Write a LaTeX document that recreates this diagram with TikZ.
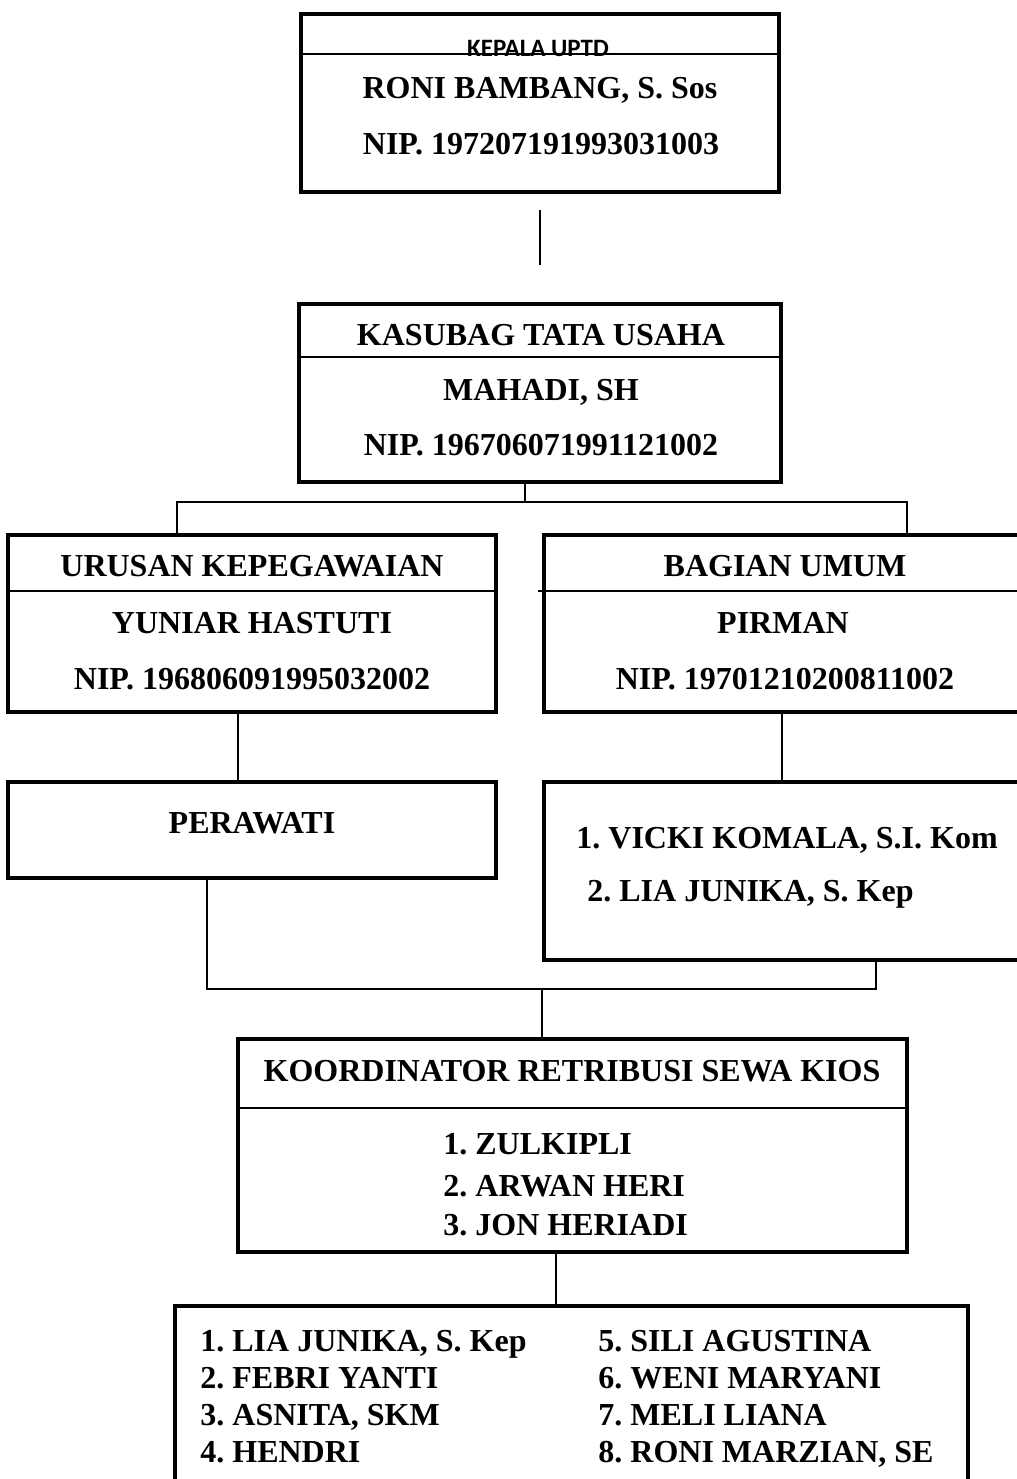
\documentclass[tikz,border=0pt]{standalone}
\usepackage{fontspec}
\setmainfont{Liberation Serif}
\newfontfamily\calibri{Carlito}
\usepackage{tikz}
\frenchspacing

\begin{document}
\begin{tikzpicture}[x=0.5pt,y=-0.5pt,
  box/.style 2 args={draw, line width=2pt, minimum width=#1*0.5pt, minimum height=#2*0.5pt},
  divider/.style={line width=0.75pt},
  conn/.style={line width=0.75pt},
  txt/.style={font=\fontsize{16}{19}\selectfont\bfseries, text height=10.6pt, text depth=0pt}]
\tikzstyle{every node}+=[inner sep=0pt]
\clip (0,0) rectangle (1017,1479);
% boxes
\node [box={478}{178}] (kepala) at (540,103) {};
\node [box={482}{178}] (kasubag) at (540,393) {};
\node [box={488}{177}] (urusan) at (252,623.5) {};
\node [box={492}{177}] (bagian) at (790,623.5) {};
\node [box={488}{96}] (perawati) at (252,830) {};
\node [box={492}{178}] (staf) at (790,871) {};
\node [box={669}{213}] (koordinator) at (572.5,1145.5) {};
\node [box={793}{195}] (pelaksana) at (571.5,1403) {};
% dividers
\draw [divider] (kepala.west |- 0,54) -- (kepala.east |- 0,54);
\draw [divider] (kasubag.west |- 0,357) -- (kasubag.east |- 0,357);
\draw [divider] (urusan.west |- 0,591) -- (urusan.east |- 0,591);
\draw [divider] (538,591) -- (bagian.east |- 0,591);
\draw [divider] (koordinator.west |- 0,1108) -- (koordinator.east |- 0,1108);
% texts
\node [anchor=base, font=\calibri\bfseries\fontsize{12.5}{14}\selectfont] (t0) at (538,56) {KEPALA UPTD};
\node [txt] (t1) at (540,88) {RONI BAMBANG, S. Sos};
\node [txt] (t2) at (541,144) {NIP. 197207191993031003};
\node [txt] (t3) at (541,335) {KASUBAG TATA USAHA};
\node [txt] (t4) at (541,390) {MAHADI, SH};
\node [txt] (t5) at (541,445) {NIP. 196706071991121002};
\node [txt] (t6) at (252,566) {URUSAN KEPEGAWAIAN};
\node [txt] (t7) at (252,623) {YUNIAR HASTUTI};
\node [txt] (t8) at (252,679) {NIP. 196806091995032002};
\node [txt] (t9) at (785,566) {BAGIAN UMUM};
\node [txt] (t10) at (783,623) {PIRMAN};
\node [txt] (t11) at (785,679) {NIP. 19701210200811002};
\node [txt] (t12) at (252,823) {PERAWATI};
\node [txt, anchor=west] (t13) at (576,838) {1. VICKI KOMALA, S.I. Kom};
\node [txt, anchor=west] (t14) at (587,891) {2. LIA JUNIKA, S. Kep};
\node [txt] (t15) at (572,1071) {KOORDINATOR RETRIBUSI SEWA KIOS};
\node [txt, anchor=west] (t16) at (443,1144) {1. ZULKIPLI};
\node [txt, anchor=west] (t17) at (443,1186) {2. ARWAN HERI};
\node [txt, anchor=west] (t18) at (443,1225) {3. JON HERIADI};
\node [txt, anchor=west] (t19) at (200,1341) {1. LIA JUNIKA, S. Kep};
\node [txt, anchor=west] (t20) at (200,1378) {2. FEBRI YANTI};
\node [txt, anchor=west] (t21) at (200,1415) {3. ASNITA, SKM};
\node [txt, anchor=west] (t22) at (200,1452) {4. HENDRI};
\node [txt, anchor=west] (t23) at (598,1341) {5. SILI AGUSTINA};
\node [txt, anchor=west] (t24) at (598,1378) {6. WENI MARYANI};
\node [txt, anchor=west] (t25) at (598,1415) {7. MELI LIANA};
\node [txt, anchor=west] (t26) at (598,1452) {8. RONI MARZIAN, SE};
% connectors
\coordinate (a1) at (540,210);
\coordinate (a2) at (540,265);
\draw [conn] (a1) -- (a2);
\coordinate (s1) at (525,502);
\coordinate (sl) at (177,502);
\coordinate (sr) at (907,502);
\draw [conn] (kasubag.south -| s1) -- (s1);
\draw [conn] (urusan.north -| sl) -- (sl) -- (sr) -- (bagian.north -| sr);
\draw [conn] (urusan.south -| 238,0) -- (perawati.north -| 238,0);
\draw [conn] (bagian.south -| 782,0) -- (staf.north -| 782,0);
\coordinate (m1) at (207,989);
\coordinate (m2) at (876,989);
\coordinate (m3) at (542,989);
\draw [conn] (perawati.south -| m1) -- (m1) -- (m2) -- (staf.south -| m2);
\draw [conn] (m3) -- (koordinator.north -| m3);
\draw [conn] (koordinator.south -| 556,0) -- (pelaksana.north -| 556,0);
\end{tikzpicture}
\end{document}
